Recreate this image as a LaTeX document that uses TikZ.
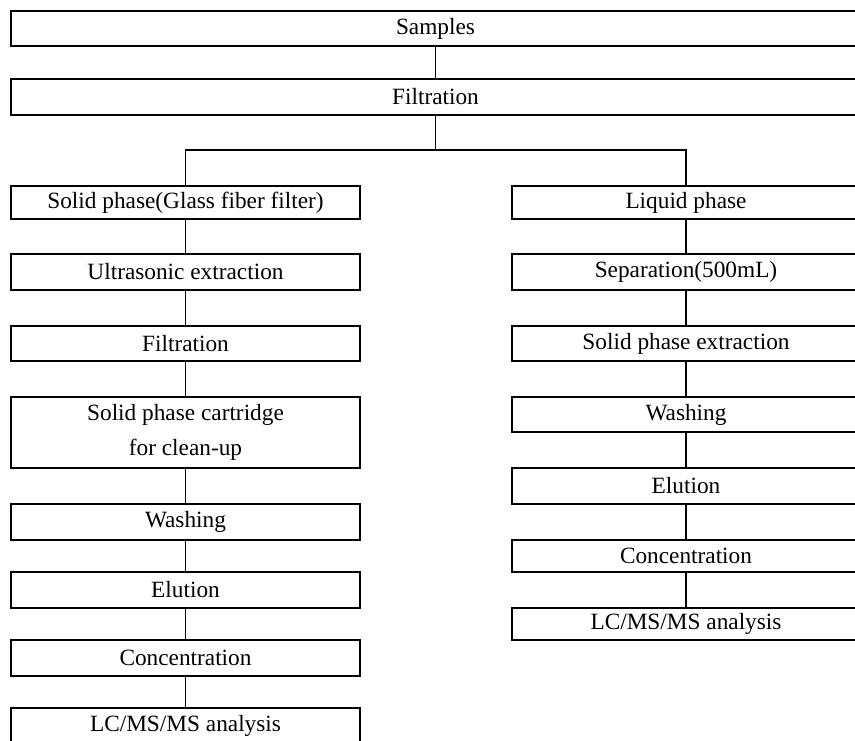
\documentclass[tikz,border=0pt]{standalone}
\usepackage{fontspec}
\setmainfont{Liberation Serif}
\begin{document}
\begin{tikzpicture}[x=1pt,y=-1pt,
  box/.style={draw,line width=1.7pt,inner sep=0pt,align=center,font=\fontsize{23.3}{35}\selectfont},
  topbox/.style={box,minimum width=849pt},
  lbox/.style={box,minimum width=349pt},
  rbox/.style={box,minimum width=348pt},
  link/.style={line width=1.7pt}]
\useasboundingbox (0,0) rectangle (855,740);
\clip (0,0) rectangle (855,740);
\fill[white] (0,0) rectangle (855,740);
% top
\node[topbox,minimum height=35pt] (samples) at (435.5,28.5) {Samples};
\node[topbox,minimum height=36pt] (filt) at (435.5,97) {Filtration};
\coordinate (split) at (435.5,150);
% left column
\node[lbox,minimum height=33pt] (l1) at (185.5,202.5) {Solid phase(Glass fiber filter)};
\node[lbox,minimum height=36pt] (l2) at (185.5,272) {Ultrasonic extraction};
\node[lbox,minimum height=35pt] (l3) at (185.5,343.5) {Filtration};
\node[lbox,minimum height=71pt] (l4) at (185.5,432.5) {Solid phase cartridge\\for clean-up};
\node[lbox,minimum height=36pt] (l5) at (185.5,522) {Washing};
\node[lbox,minimum height=36pt] (l6) at (185.5,590) {Elution};
\node[lbox,minimum height=36pt] (l7) at (185.5,658) {Concentration};
\node[lbox,minimum height=36pt] (l8) at (185.5,726) {LC/MS/MS analysis};
% right column
\node[rbox,minimum height=33pt] (r1) at (686,202.5) {Liquid phase};
\node[rbox,minimum height=36pt] (r2) at (686,272) {Separation(500mL)};
\node[rbox,minimum height=35pt] (r3) at (686,343.5) {Solid phase extraction};
\node[rbox,minimum height=35pt] (r4) at (686,414.5) {Washing};
\node[rbox,minimum height=36pt] (r5) at (686,486) {Elution};
\node[rbox,minimum height=32pt] (r6) at (686,556) {Concentration};
\node[rbox,minimum height=32pt] (r7) at (686,624) {LC/MS/MS analysis};
% connectors
\draw[link] (samples) -- (filt);
\draw[link] (filt.south) -- (split);
\draw[link] (l1.north) |- (split) -| (r1.north);
\foreach \a/\b in {l1/l2,l2/l3,l3/l4,l4/l5,l5/l6,l6/l7,l7/l8,r1/r2,r2/r3,r3/r4,r4/r5,r5/r6,r6/r7}
  \draw[link] (\a.south) -- (\b.north);
\end{tikzpicture}
\end{document}
